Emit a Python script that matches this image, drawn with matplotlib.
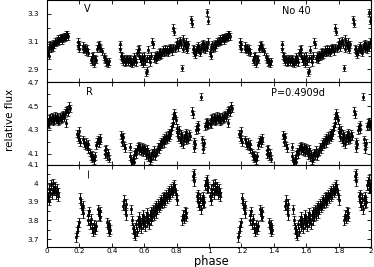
import numpy as np
import matplotlib
matplotlib.use("Agg")
import matplotlib.pyplot as plt
from matplotlib.ticker import MultipleLocator, FuncFormatter

# phase (one cycle) and values for each band; the chart shows every point twice (phase and phase+1)
v_phase = [0.005, 0.01, 0.015, 0.02, 0.025, 0.03, 0.035, 0.04, 0.045, 0.05, 0.055, 0.06, 0.065,
           0.07, 0.075, 0.08, 0.085, 0.09, 0.095, 0.10, 0.105, 0.11, 0.115, 0.12, 0.125, 0.13,
           0.19, 0.19, 0.195, 0.20,
           0.22, 0.225, 0.23, 0.235, 0.24, 0.245, 0.25,
           0.27, 0.275, 0.28, 0.285, 0.29, 0.295, 0.30,
           0.31, 0.315, 0.32, 0.325, 0.33, 0.34,
           0.35, 0.355, 0.36, 0.365, 0.37, 0.375, 0.38,
           0.45, 0.452, 0.455, 0.46, 0.465, 0.47, 0.475, 0.48, 0.485, 0.49, 0.495, 0.50, 0.505,
           0.51, 0.515, 0.52, 0.525, 0.53, 0.535, 0.54, 0.545, 0.55,
           0.555, 0.56, 0.565, 0.57, 0.575, 0.58, 0.585, 0.59, 0.595, 0.60, 0.605, 0.61, 0.615,
           0.62, 0.625, 0.63, 0.635, 0.64,
           0.65, 0.655, 0.66, 0.665, 0.67, 0.675,
           0.68, 0.685, 0.69, 0.695, 0.70, 0.705, 0.71, 0.715, 0.72, 0.725, 0.73, 0.735, 0.74,
           0.745, 0.75, 0.755, 0.76, 0.765,
           0.77, 0.775, 0.78, 0.785, 0.79, 0.795,
           0.80, 0.805, 0.81, 0.815, 0.82, 0.825, 0.835, 0.838, 0.84, 0.845, 0.85, 0.855, 0.86,
           0.865, 0.87,
           0.89, 0.893, 0.90, 0.905, 0.91, 0.915, 0.92, 0.925, 0.93, 0.935, 0.94, 0.945, 0.95,
           0.955, 0.96, 0.965, 0.97, 0.975, 0.98, 0.985,
           0.99, 0.992, 0.995]
v_flux = [3.02, 3.00, 3.06, 3.08, 3.05, 3.07, 3.09, 3.06, 3.08, 3.10, 3.09, 3.11, 3.10,
          3.12, 3.11, 3.12, 3.13, 3.11, 3.13, 3.12, 3.14, 3.13, 3.15, 3.14, 3.15, 3.14,
          3.10, 3.07, 3.05, 3.08,
          3.05, 3.07, 3.04, 3.06, 3.03, 3.05, 3.02,
          2.97, 2.99, 2.96, 3.00, 2.94, 2.98, 2.97,
          3.05, 3.07, 3.08, 3.05, 3.06, 3.03,
          2.99, 2.97, 2.98, 2.95, 2.96, 2.94, 2.96,
          3.08, 3.05, 3.00, 2.97, 2.99, 2.96, 2.98, 2.95, 2.97, 2.96, 2.98, 2.96, 2.97,
          2.95, 2.98, 2.96, 2.94, 2.97, 2.99, 2.96, 2.98, 2.95,
          3.02, 3.04, 3.00, 3.05, 2.98, 2.96, 2.99, 2.94, 2.97, 3.00, 2.96, 2.88, 2.89,
          2.98, 3.04, 2.98, 2.95, 3.00,
          3.10, 3.08, 2.98, 3.00, 2.97, 2.99,
          3.01, 2.99, 3.02, 3.00, 3.03, 3.01, 3.02, 3.04, 3.02, 3.03, 3.05, 3.03, 3.04,
          3.02, 3.05, 3.04, 3.06, 3.05,
          3.03, 3.06, 3.20, 3.17, 3.05, 3.07,
          3.08, 3.10, 3.06, 3.09, 3.11, 3.08, 2.91, 3.12, 3.05, 3.09, 3.07, 3.10, 3.06,
          3.04, 3.08,
          3.26, 3.23, 3.05, 3.02, 3.04, 3.01, 3.03, 3.06, 3.04, 3.07, 3.05, 3.02, 3.06,
          3.08, 3.05, 3.09, 3.07, 3.04, 3.08, 3.06,
          3.31, 3.25, 3.10]

r_phase = [0.005, 0.01, 0.015, 0.02, 0.025, 0.03, 0.035, 0.04, 0.045, 0.05, 0.055, 0.06, 0.065,
           0.07, 0.075, 0.08, 0.085, 0.09, 0.095, 0.10, 0.105, 0.11, 0.115, 0.12, 0.125, 0.13,
           0.135, 0.14,
           0.185, 0.19, 0.195, 0.20, 0.205,
           0.225, 0.23, 0.235, 0.24, 0.245, 0.25, 0.255,
           0.265, 0.27, 0.275, 0.28, 0.285, 0.29, 0.295,
           0.305, 0.31, 0.315, 0.32, 0.325, 0.33,
           0.355, 0.36, 0.365, 0.37, 0.375, 0.38,
           0.455, 0.46, 0.465, 0.47, 0.475, 0.48,
           0.51, 0.515, 0.52, 0.525, 0.53, 0.535, 0.54, 0.545, 0.55, 0.555, 0.56, 0.565, 0.57,
           0.575, 0.58, 0.585, 0.59, 0.595, 0.60, 0.605, 0.61, 0.615, 0.62, 0.625, 0.63, 0.635,
           0.64, 0.645, 0.65, 0.655, 0.66, 0.665, 0.67,
           0.68, 0.685, 0.69, 0.695, 0.70, 0.705, 0.71, 0.715, 0.72, 0.725, 0.73, 0.735, 0.74,
           0.745, 0.75, 0.755, 0.76, 0.765, 0.77, 0.775, 0.78, 0.785, 0.79, 0.795, 0.80,
           0.805, 0.81, 0.815, 0.82, 0.825, 0.83, 0.835, 0.84, 0.845, 0.85, 0.855, 0.86, 0.865,
           0.87, 0.875, 0.88,
           0.895, 0.90, 0.905, 0.91, 0.915, 0.92, 0.925, 0.93, 0.935,
           0.95,
           0.955, 0.96, 0.965, 0.97, 0.975, 0.98, 0.985, 0.99, 0.995]
r_flux = [4.36, 4.39, 4.35, 4.40, 4.38, 4.41, 4.37, 4.40, 4.38, 4.42, 4.39, 4.41, 4.37,
          4.40, 4.38, 4.41, 4.39, 4.42, 4.40, 4.43, 4.41, 4.44, 4.46, 4.36, 4.47, 4.45,
          4.50, 4.48,
          4.27, 4.24, 4.29, 4.22, 4.20,
          4.22, 4.19, 4.17, 4.20, 4.16, 4.18, 4.14,
          4.11, 4.08, 4.06, 4.09, 4.07, 4.05, 4.08,
          4.17, 4.20, 4.22, 4.19, 4.23, 4.21,
          4.13, 4.10, 4.14, 4.08, 4.11, 4.06,
          4.26, 4.23, 4.20, 4.24, 4.17, 4.15,
          4.16, 4.08, 4.04, 4.02, 4.06, 4.03, 4.09, 4.12, 4.10, 4.14, 4.16, 4.13, 4.17,
          4.15, 4.12, 4.16, 4.14, 4.11, 4.15, 4.13, 4.09, 4.12, 4.14, 4.07, 4.10, 4.05,
          4.08, 4.06, 4.11, 4.09, 4.13, 4.08, 4.11,
          4.12, 4.16, 4.14, 4.18, 4.16, 4.20, 4.18, 4.22, 4.19, 4.23, 4.21, 4.25, 4.22,
          4.26, 4.24, 4.28, 4.26, 4.30, 4.33, 4.36, 4.40, 4.44, 4.42, 4.38, 4.32,
          4.28, 4.24, 4.30, 4.22, 4.27, 4.20, 4.25, 4.18, 4.23, 4.26, 4.21, 4.28, 4.24,
          4.22, 4.27, 4.25,
          4.46, 4.43, 4.20, 4.15, 4.18, 4.30, 4.33, 4.31, 4.34,
          4.58,
          4.22, 4.17, 4.14, 4.19, 4.33, 4.36, 4.34, 4.37, 4.35]

b_phase = [0.005, 0.01, 0.015, 0.02, 0.025, 0.03, 0.035, 0.04, 0.045, 0.05, 0.055, 0.06, 0.065,
           0.07,
           0.18, 0.185, 0.19, 0.195,
           0.205, 0.21, 0.215, 0.22, 0.225,
           0.25, 0.255, 0.26, 0.265, 0.27,
           0.28, 0.285, 0.29, 0.295, 0.30,
           0.315, 0.32, 0.325, 0.33,
           0.37, 0.375, 0.38, 0.385, 0.39,
           0.47, 0.475, 0.48, 0.485, 0.49,
           0.52, 0.525, 0.53, 0.535, 0.54, 0.545, 0.55, 0.555, 0.56, 0.565, 0.57, 0.575, 0.58,
           0.585, 0.59, 0.595, 0.60, 0.605, 0.61, 0.615, 0.62, 0.625, 0.63, 0.635, 0.64, 0.645,
           0.65, 0.655, 0.66, 0.665, 0.67, 0.675, 0.68, 0.685, 0.69, 0.695, 0.70, 0.705, 0.71,
           0.715, 0.72, 0.725, 0.73, 0.735, 0.74, 0.745, 0.75, 0.755, 0.76, 0.765, 0.77, 0.775,
           0.78, 0.785, 0.79, 0.795, 0.80,
           0.835, 0.84, 0.845, 0.85, 0.855, 0.86,
           0.90, 0.905, 0.91,
           0.925, 0.93, 0.935, 0.94, 0.945, 0.95, 0.955, 0.96, 0.965, 0.97,
           0.975, 0.98, 0.985, 0.99, 0.995]
b_flux = [3.93, 3.97, 3.91, 3.95, 3.99, 3.94, 3.97, 4.00, 3.96, 3.98, 3.94, 3.97, 3.95,
          3.93,
          3.71, 3.74, 3.77, 3.79,
          3.92, 3.89, 3.86, 3.88, 3.84,
          3.83, 3.80, 3.85, 3.78, 3.81,
          3.76, 3.74, 3.78, 3.75, 3.77,
          3.86, 3.83, 3.85, 3.82,
          3.79, 3.76, 3.74, 3.78, 3.75,
          3.88, 3.91, 3.86, 3.89, 3.83,
          3.86, 3.80, 3.76, 3.73, 3.75, 3.72, 3.78, 3.74, 3.80, 3.77, 3.82, 3.79, 3.76,
          3.81, 3.78, 3.83, 3.80, 3.77, 3.82, 3.79, 3.84, 3.81, 3.78, 3.83, 3.80, 3.85,
          3.82, 3.86, 3.83, 3.87, 3.84, 3.88, 3.86, 3.89, 3.87, 3.90, 3.88, 3.91, 3.89,
          3.92, 3.90, 3.93, 3.91, 3.94, 3.92, 3.95, 3.93, 3.96, 3.94, 3.97, 3.95, 3.98,
          3.96, 3.99, 3.97, 3.94, 3.91,
          3.80, 3.83, 3.81, 3.85, 3.82, 3.84,
          4.04, 4.01, 4.05,
          3.93, 3.90, 3.94, 3.88, 3.92, 3.86, 3.91, 3.89, 3.93, 3.90,
          3.99, 4.01, 3.97, 4.02, 3.98]

v_err, r_err, b_err = 0.025, 0.032, 0.025
typical_bar = (0.25, 4.05, 0.019)   # lone error bar in the lower panel

panels = [
    (v_phase, v_flux, v_err, (2.807, 3.40), [3.3, 3.1, 2.9], 0.1),
    (r_phase, r_flux, r_err, (4.008, 4.70), [4.7, 4.5, 4.3, 4.1], 0.1),
    (b_phase, b_flux, b_err, (3.657, 4.10), [4.1, 4.0, 3.9, 3.8, 3.7], 0.05),
]

fig = plt.figure(figsize=(3.74, 2.67), dpi=100)
left, width = 47 / 374, 324 / 374
edges = [0, 82.3, 164.7, 247]   # panel borders in pixels from the top
boxes = [(1 - edges[i + 1] / 267, (edges[i + 1] - edges[i]) / 267) for i in range(3)]

axes = []
for (ph, fl, err, ylim, yt, minor), (bottom, height) in zip(panels, boxes):
    ax = fig.add_axes([left, bottom, width, height])
    ph = np.asarray(ph)
    fl = np.asarray(fl)
    for shift in (0, 1):
        ax.errorbar(ph + shift, fl, yerr=err, fmt='s', ms=1.8, color='black',
                    ecolor='black', elinewidth=0.7, capsize=1.6, capthick=0.7,
                    mew=0.5)
    ax.set_xlim(0, 2)
    ax.set_ylim(*ylim)
    ax.set_yticks(yt)
    ax.yaxis.set_minor_locator(MultipleLocator(minor))
    ax.xaxis.set_major_locator(MultipleLocator(0.2))
    ax.yaxis.set_major_formatter(FuncFormatter(lambda v, p: '%g' % round(v, 2)))
    ax.xaxis.set_major_formatter(FuncFormatter(lambda v, p: '%g' % round(v, 2)))
    ax.tick_params(which='both', direction='in', top=True, right=True,
                   labelsize=5.2, width=0.6, pad=6)
    ax.tick_params(which='major', length=3)
    ax.tick_params(which='minor', length=2)
    ax.tick_params(axis='x', pad=0.6)
    for s in ax.spines.values():
        s.set_linewidth(0.8)
    axes.append(ax)

axes[0].tick_params(labelbottom=False)
axes[1].tick_params(labelbottom=False)

axes[2].errorbar([typical_bar[0]], [typical_bar[1]], yerr=typical_bar[2], fmt='none',
                 ecolor='black', elinewidth=0.6, capsize=0)

axes[0].text(0.25, 3.335, 'V', fontsize=7, ha='center', va='center')
axes[0].text(1.54, 3.32, 'No 40', fontsize=7, ha='center', va='center')
axes[1].text(0.265, 4.62, 'R', fontsize=7, ha='center', va='center')
axes[1].text(1.55, 4.61, 'P=0.4909d', fontsize=7, ha='center', va='center')

fig.text(10 / 374, 1 - 120 / 267, 'relative flux', rotation=90, fontsize=7.5,
         ha='center', va='center')
fig.text(211 / 374, 1 - 255.2 / 267, 'phase', fontsize=8.3, ha='center', va='top')

fig.savefig('out.png', dpi=100)
